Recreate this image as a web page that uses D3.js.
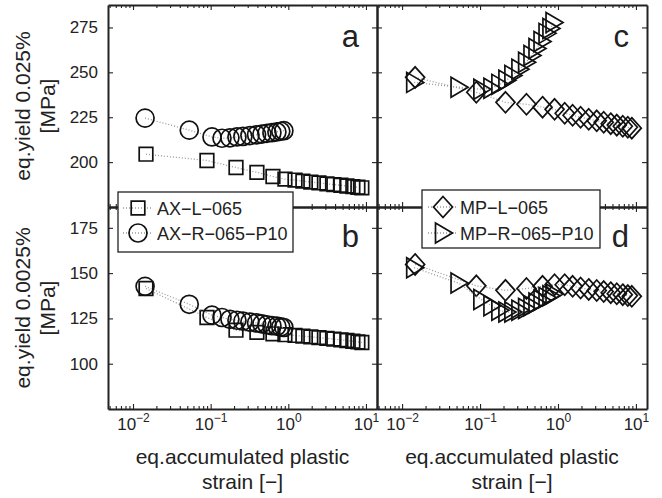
<!DOCTYPE html>
<html>
<head>
<meta charset="utf-8">
<script src="https://cdn.jsdelivr.net/npm/d3@7"></script>
<style>
  body { margin: 0; background: #fff; }
  svg { display: block; font-family: "Liberation Sans", Arial, Helvetica, sans-serif; }
</style>
</head>
<body>
<div class="container"></div>
<script>
const w = 662;
const h = 498;

// strain of the L tests (17 points) and R tests (15 points)
const strainL = [0.0147, 0.0896, 0.212, 0.394, 0.634, 0.904, 1.22, 1.54, 1.95, 2.48, 3.14, 3.86, 4.75, 5.68, 6.78, 7.87, 8.85];
const strainR = [0.0143, 0.053, 0.104, 0.14, 0.177, 0.218, 0.26, 0.32, 0.39, 0.457, 0.53, 0.615, 0.713, 0.80, 0.877];

// eq. yield at 0.025% offset
const axL025 = [204.4, 200.9, 197, 194.3, 192, 190.5, 190, 189.4, 188.9, 188.4, 187.9, 187.5, 187.1, 186.7, 186.3, 186, 185.7];
const axR025 = [224.5, 217.8, 214, 213.3, 213.5, 214, 214.3, 214.8, 215.2, 215.6, 216, 216.4, 216.8, 217.2, 217.5];
const mpL025 = [247.2, 238.9, 233.3, 232.2, 230.6, 229.4, 227.2, 226.1, 225, 223.9, 223, 222.2, 221.4, 220.6, 220, 219.4, 218.9];
const mpR025 = [244.4, 241.7, 240.6, 241.1, 243.3, 245.6, 248.3, 251.7, 255.6, 259.4, 263.3, 267.2, 271.7, 274.4, 277.8];

// eq. yield at 0.0025% offset
const axL0025 = [141.5, 125.5, 118.5, 117.3, 116.5, 116, 115.6, 115.2, 114.8, 114.4, 114, 113.6, 113.2, 112.8, 112.4, 112, 111.7];
const axR0025 = [142.7, 132.8, 126.8, 125.5, 124.5, 124, 123.5, 123, 122.5, 122, 121.5, 121, 120.7, 120.3, 120];
const mpL0025 = [154.8, 143, 140.5, 141.5, 142.7, 143.6, 143.6, 142.7, 141.8, 141, 140.4, 139.8, 139.2, 138.6, 138.1, 137.6, 137.2];
const mpR0025 = [153, 144.5, 135.5, 132, 129.5, 128.5, 128.5, 129.5, 130.5, 132, 133.5, 135, 136.5, 137.5, 138.5];

const xTicks = [0.01, 0.1, 1, 10];
const xTickExp = ['\u22122', '\u22121', '0', '1'];
const yTicksTop = [200, 225, 250, 275];
const yTicksBottom = [100, 125, 150, 175];
const legendAX = ['AX\u2212L\u2212065', 'AX\u2212R\u2212065\u2212P10'];
const legendMP = ['MP\u2212L\u2212065', 'MP\u2212R\u2212065\u2212P10'];

const xDomain = [Math.pow(10, -2.322), Math.pow(10, 1.142)];

const markers = {
    square: 'M-6.8,-6.8H6.8V6.8H-6.8Z',
    circle: 'M9,0A9,9 0 1,1 -9,0A9,9 0 1,1 9,0Z',
    diamond: 'M0,-10.5L9.5,0L0,10.5L-9.5,0Z',
    triangle: 'M-7.5,-10L9.5,0L-7.5,10Z'
};

const svg = d3.select('.container')
    .append('svg')
    .attr('width', w)
    .attr('height', h);

const panels = [
    { label: 'a', xr: [108, 377], yr: [207, 5], yd: [175, 287.5], yt: yTicksTop, left: true, bottom: false,
      series: [{ x: strainL, y: axL025, m: 'square' }, { x: strainR, y: axR025, m: 'circle' }] },
    { label: 'b', xr: [108, 377], yr: [409, 207], yd: [75, 186.5], yt: yTicksBottom, left: true, bottom: true,
      series: [{ x: strainL, y: axL0025, m: 'square' }, { x: strainR, y: axR0025, m: 'circle' }] },
    { label: 'c', xr: [377, 647], yr: [207, 5], yd: [175, 287.5], yt: yTicksTop, left: false, bottom: false,
      series: [{ x: strainL, y: mpL025, m: 'diamond' }, { x: strainR, y: mpR025, m: 'triangle' }] },
    { label: 'd', xr: [377, 647], yr: [409, 207], yd: [75, 186.5], yt: yTicksBottom, left: false, bottom: true,
      series: [{ x: strainL, y: mpL0025, m: 'diamond' }, { x: strainR, y: mpR0025, m: 'triangle' }] }
];

// minor ticks of the log axis
const minorTicks = [];
for (let e = -3; e <= 1; e++) {
    for (let k = 2; k <= 9; k++) {
        const v = k * Math.pow(10, e);
        if (v > xDomain[0] && v < xDomain[1]) minorTicks.push(v);
    }
}

function styleAxis(g) {
    g.attr('font-size', null).attr('font-family', null);
    g.select('.domain').attr('stroke', '#222').attr('stroke-width', 2);
    g.selectAll('.tick line').attr('stroke', '#222').attr('stroke-width', 1.1);
    g.selectAll('.tick text').attr('fill', '#222').style('font-size', '17px');
}

panels.forEach(p => {
    const x = d3.scaleLog().domain(xDomain).range(p.xr);
    const y = d3.scaleLinear().domain(p.yd).range(p.yr);
    const g = svg.append('g');

    p.series.forEach(s => {
        const pts = s.x.map((v, i) => [v, s.y[i]]);
        g.append('path')
            .datum(pts)
            .attr('fill', 'none')
            .attr('stroke', '#999')
            .attr('stroke-width', 1.3)
            .attr('stroke-dasharray', '1,2')
            .attr('d', d3.line().x(d => x(d[0])).y(d => y(d[1])));
        g.append('g')
            .selectAll('path')
            .data(pts)
            .join('path')
            .attr('transform', d => `translate(${x(d[0])},${y(d[1])})`)
            .attr('d', markers[s.m])
            .attr('fill', 'none')
            .attr('stroke', '#111')
            .attr('stroke-width', 1.7);
    });

    // minor ticks top + bottom
    g.append('g').attr('transform', `translate(0,${p.yr[0]})`)
        .call(d3.axisBottom(x).tickValues(minorTicks).tickSize(-3).tickFormat(''))
        .call(styleAxis).select('.domain').remove();
    g.append('g').attr('transform', `translate(0,${p.yr[1]})`)
        .call(d3.axisTop(x).tickValues(minorTicks).tickSize(-3).tickFormat(''))
        .call(styleAxis).select('.domain').remove();

    // major x axes
    const bx = g.append('g').attr('transform', `translate(0,${p.yr[0]})`)
        .call(d3.axisBottom(x).tickValues(xTicks).tickSize(-5).tickSizeOuter(0).tickPadding(9).tickFormat(() => ''))
        .call(styleAxis);
    if (p.bottom) {
        bx.selectAll('.tick text').each(function (d, i) {
            const t = d3.select(this);
            t.append('tspan').text('10');
            t.append('tspan').attr('dy', -8).style('font-size', '12px').text(xTickExp[i]);
        });
    }
    g.append('g').attr('transform', `translate(0,${p.yr[1]})`)
        .call(d3.axisTop(x).tickValues(xTicks).tickSize(-5).tickSizeOuter(0).tickFormat(''))
        .call(styleAxis);

    // y axes
    g.append('g').attr('transform', `translate(${p.xr[0]},0)`)
        .call(d3.axisLeft(y).tickValues(p.yt).tickSize(-5).tickSizeOuter(0).tickPadding(10)
            .tickFormat(p.left ? d3.format('d') : ''))
        .call(styleAxis);
    g.append('g').attr('transform', `translate(${p.xr[1]},0)`)
        .call(d3.axisRight(y).tickValues(p.yt).tickSize(-5).tickSizeOuter(0).tickFormat(''))
        .call(styleAxis);

    // panel letter
    g.append('text')
        .attr('x', p.xr[1] - 18)
        .attr('y', p.yr[1] + (p.bottom ? 40 : 42))
        .attr('text-anchor', 'end')
        .style('font-size', '31px')
        .attr('fill', '#222')
        .text(p.label);
});

// axis titles
[242.5, 512].forEach(cx => {
    svg.append('text').attr('x', cx).attr('y', 464).attr('text-anchor', 'middle')
        .style('font-size', '21px').attr('fill', '#222').text('eq.accumulated plastic');
    svg.append('text').attr('x', cx).attr('y', 489).attr('text-anchor', 'middle')
        .style('font-size', '21px').attr('fill', '#222').text('strain [\u2212]');
});

[[106, 'eq.yield 0.025%'], [308, 'eq.yield 0.0025%']].forEach(([cy, txt]) => {
    const t = svg.append('text')
        .attr('transform', `translate(30,${cy}) rotate(-90)`)
        .attr('text-anchor', 'middle')
        .style('font-size', '21px')
        .attr('fill', '#222');
    t.append('tspan').attr('x', 0).attr('y', 0).text(txt);
    t.append('tspan').attr('x', 0).attr('y', 25).text('[MPa]');
});

// legends
function legend(x0, y0, bw, bh, names, ms, rowY, mx, tx) {
    const lg = svg.append('g').attr('transform', `translate(${x0},${y0})`);
    lg.append('rect').attr('width', bw).attr('height', bh)
        .attr('fill', '#fff').attr('stroke', '#222').attr('stroke-width', 1.3);
    names.forEach((n, i) => {
        const yy = rowY[i];
        lg.append('line').attr('x1', mx - 15).attr('x2', mx + 15).attr('y1', yy).attr('y2', yy)
            .attr('stroke', '#999').attr('stroke-width', 1.3).attr('stroke-dasharray', '1,2');
        lg.append('path').attr('transform', `translate(${mx},${yy})`).attr('d', markers[ms[i]])
            .attr('fill', 'none').attr('stroke', '#111').attr('stroke-width', 1.7);
        lg.append('text').attr('x', tx).attr('y', yy + 6.5).style('font-size', '18px')
            .attr('fill', '#222').text(n);
    });
}
legend(118, 192, 175, 60, legendAX, ['square', 'circle'], [16, 41], 20, 39);
legend(422, 190, 178, 58, legendMP, ['diamond', 'triangle'], [17, 43], 21, 38);
</script>
</body>
</html>
